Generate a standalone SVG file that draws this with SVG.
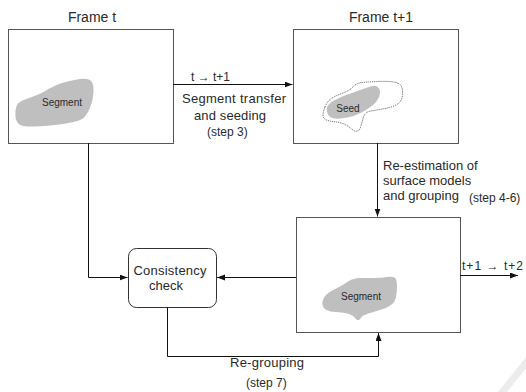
<svg xmlns="http://www.w3.org/2000/svg" width="526" height="392" viewBox="0 0 526 392">
  <style>
    .frame { fill: #ffffff; stroke: #555555; stroke-width: 1; }
    .blob { fill: #bfbfbf; stroke: none; }
    .wire { fill: none; stroke: #111111; stroke-width: 1; }
    .lbl { font-family: "Liberation Sans", Arial, sans-serif; fill: #2a2a2a; }
    .big { font-size: 14px; }
    .mid { font-size: 13px; }
    .sml { font-size: 12px; }
    .tiny { font-size: 10px; }
  </style>
  <defs>
    <marker id="arrow" markerUnits="userSpaceOnUse" markerWidth="9" markerHeight="7" refX="8" refY="3" orient="auto">
      <path d="M0,0 L8,3 L0,6 Z" fill="#111111"/>
    </marker>
  </defs>
  <rect width="526" height="392" fill="#ffffff"/>

  <!-- faint corner stroke -->
  <line x1="500" y1="395" x2="529" y2="359" stroke="#ececec" stroke-width="7"/>

  <g id="frame-t">
    <text class="lbl big" x="92" y="22" text-anchor="middle">Frame t</text>
    <rect class="frame" x="8.5" y="29.5" width="165" height="114"/>
    <path class="blob" d="M25,99.5 Q32,97 37,95 Q42,93 48.5,89 Q55,85 63.5,82.5 Q72,80 80,79 Q88,78 91,81 Q94,84 93.5,92 Q93,100 90.5,106.5 Q88,113 85,116.5 Q82,120 73.5,122 Q65,124 55,125 Q45,126 35,126.5 Q25,127 20.5,125 Q16,123 15.5,116.5 Q15,110 16.5,106 Q18,102 25,99.5 Z"/>
    <text class="lbl tiny" x="62" y="106" text-anchor="middle">Segment</text>
  </g>

  <g id="frame-t1">
    <text class="lbl big" x="381" y="22" text-anchor="middle">Frame t+1</text>
    <rect class="frame" x="293.5" y="29.5" width="165" height="114"/>
    <path class="blob" d="M327,107.5 Q328,104 334,100.5 Q340,97 347.5,94.5 Q355,92 361.5,89.5 Q368,87 372.5,86 Q377,85 379,88.5 Q381,92 379,97 Q377,102 372.5,105.5 Q368,109 361.5,112.5 Q355,116 347.5,117.5 Q340,119 335,118.5 Q330,118 328,114.5 Q326,111 327,107.5 Z"/>
    <path d="M325,107 Q327,102 330,99.5 Q333,97 338,95 Q343,93 346.5,91.5 Q350,90 353.5,86.5 Q357,83 362,82.5 Q367,82 377,81.5 Q387,81 393.5,82 Q400,83 401.5,86.5 Q403,90 402.5,95 Q402,100 399.5,102.5 Q397,105 392.5,106.5 Q388,108 382.5,109 Q377,110 371,111 Q365,112 363.5,117 Q362,122 361,126 Q360,130 357.5,131 Q355,132 351,128.5 Q347,125 342.5,123.5 Q338,122 333,121.5 Q328,121 325.5,119.5 Q323,118 323,115 Q323,112 325,107 Z" fill="none" stroke="#444444" stroke-width="0.9" stroke-dasharray="1,1"/>
    <text class="lbl tiny" x="348" y="112" text-anchor="middle">Seed</text>
  </g>

  <g id="frame-t1-regrouped">
    <rect class="frame" x="296.5" y="217.5" width="164" height="115"/>
    <path class="blob" d="M348,281.5 Q353,278 360,278 Q367,278 374.5,278 Q382,278 387.5,277 Q393,276 395,278 Q397,280 397,286 Q397,292 396,297 Q395,302 391,305 Q387,308 380,310 Q373,312 368,313.5 Q363,315 360.5,318.5 Q358,322 355.5,318.5 Q353,315 347.5,313.5 Q342,312 336,312 Q330,312 326.5,310 Q323,308 322.5,305 Q322,302 323.5,298.5 Q325,295 329,292.5 Q333,290 338,287.5 Q343,285 348,281.5 Z"/>
    <text class="lbl tiny" x="361" y="300" text-anchor="middle">Segment</text>
  </g>

  <g id="consistency-check">
    <rect x="128.5" y="248.5" width="88" height="59" rx="8" ry="8" fill="#ffffff" stroke="#333333" stroke-width="1"/>
    <text class="lbl mid" x="170" y="275" text-anchor="middle" textLength="73">Consistency</text>
    <text class="lbl mid" x="166" y="290" text-anchor="middle">check</text>
  </g>

  <g id="connectors">
    <path class="wire" d="M173,84.5 H292.5" marker-end="url(#arrow)"/>
    <path class="wire" d="M377.5,143 V216.5" marker-end="url(#arrow)"/>
    <path class="wire" d="M88.5,143 V277.5 H127.5" marker-end="url(#arrow)"/>
    <path class="wire" d="M296,277.5 H217" marker-end="url(#arrow)"/>
    <path class="wire" d="M167.5,307 V356.5 H378.5 V333" marker-end="url(#arrow)"/>
    <path class="wire" d="M460,275.5 H518" marker-end="url(#arrow)"/>
  </g>

  <g id="connector-labels">
    <text class="lbl sml" x="191" y="81" textLength="39">t → t+1</text>
    <text class="lbl mid" x="182" y="103" textLength="104">Segment transfer</text>
    <text class="lbl mid" x="194" y="120" textLength="72">and seeding</text>
    <text class="lbl sml" x="207" y="136">(step 3)</text>
    <text class="lbl mid" x="383" y="170">Re-estimation of</text>
    <text class="lbl mid" x="383" y="185">surface models</text>
    <text class="lbl mid" x="383" y="200">and grouping</text>
    <text class="lbl sml" x="469" y="202">(step 4-6)</text>
    <text class="lbl sml" x="462" y="270" textLength="61">t+1 → t+2</text>
    <text class="lbl mid" x="230" y="367" textLength="74">Re-grouping</text>
    <text class="lbl sml" x="246" y="387">(step 7)</text>
  </g>
</svg>
